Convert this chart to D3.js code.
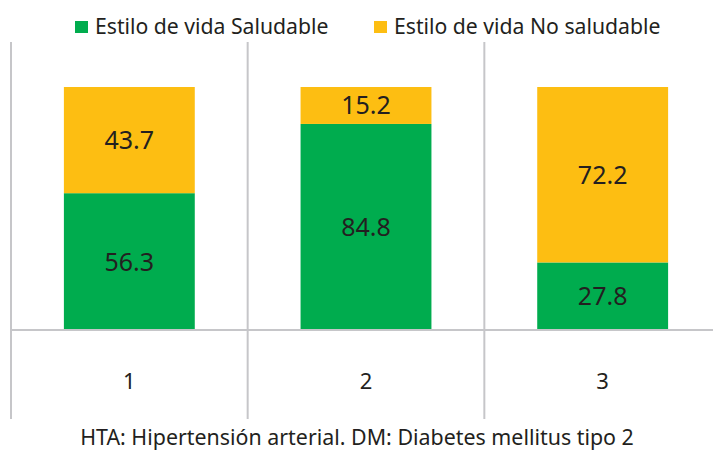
<!DOCTYPE html>
<html>
<head>
<meta charset="utf-8">
<script src="https://cdn.jsdelivr.net/npm/d3@7.9.0/dist/d3.min.js"></script>
<style>
  body { margin: 0; background: #fff; }
  svg { display: block; font-family: 'Noto Sans', sans-serif; }
</style>
</head>
<body>
<div id="chart"></div>
<script>
const categories = ['1', '2', '3'];
const saludable = [56.3, 84.8, 27.8];
const noSaludable = [43.7, 15.2, 72.2];
const seriesNames = ['Estilo de vida Saludable', 'Estilo de vida No saludable'];
const colors = ['#00ac4e', '#fdbe12'];
const footnote = 'HTA: Hipertensión arterial. DM: Diabetes mellitus tipo 2';

const width = 713;
const height = 450;
const textColor = '#231f20';
const gridColor = '#c6c6c9';

const svg = d3.select('#chart')
  .append('svg')
  .attr('width', width)
  .attr('height', height);

const x = d3.scaleBand()
  .domain(categories)
  .range([11, 721])
  .paddingInner(0.447)
  .paddingOuter(0.2235);

const y = d3.scaleLinear().domain([0, 100]).range([330, 87]);

// stacked data
const rows = categories.map((c, i) => ({ cat: c, s0: saludable[i], s1: noSaludable[i] }));
const stack = d3.stack().keys(['s0', 's1'])(rows);

// vertical separators between categories
const bounds = categories.map((c) => x(c) - x.step() * x.paddingOuter());
svg.append('g')
  .selectAll('line')
  .data(bounds)
  .join('line')
  .attr('x1', (d) => d)
  .attr('x2', (d) => d)
  .attr('y1', 42)
  .attr('y2', 419)
  .attr('stroke', gridColor)
  .attr('stroke-width', 2);

// bars
const layers = svg.append('g')
  .selectAll('g')
  .data(stack)
  .join('g')
  .attr('fill', (d, i) => colors[i]);

layers.selectAll('rect')
  .data((d) => d)
  .join('rect')
  .attr('x', (d) => x(d.data.cat))
  .attr('width', x.bandwidth())
  .attr('y', (d) => y(d[1]))
  .attr('height', (d) => y(d[0]) - y(d[1]));

// baseline
svg.append('line')
  .attr('x1', bounds[0])
  .attr('x2', width)
  .attr('y1', y(0))
  .attr('y2', y(0))
  .attr('stroke', gridColor)
  .attr('stroke-width', 2);

// value labels
layers.selectAll('text')
  .data((d) => d)
  .join('text')
  .attr('x', (d) => x(d.data.cat) + x.bandwidth() / 2)
  .attr('y', (d) => (y(d[0]) + y(d[1])) / 2)
  .attr('dy', '0.36em')
  .attr('text-anchor', 'middle')
  .attr('fill', textColor)
  .attr('font-size', 25)
  .text((d) => (d[1] - d[0]).toFixed(1));

// category labels
svg.append('g')
  .selectAll('text')
  .data(categories)
  .join('text')
  .attr('x', (d) => x(d) + x.bandwidth() / 2)
  .attr('y', 381)
  .attr('dy', '0.36em')
  .attr('text-anchor', 'middle')
  .attr('fill', textColor)
  .attr('font-size', 22)
  .text((d) => d);

// legend
const legendX = [75, 374];
const legend = svg.append('g')
  .selectAll('g')
  .data(seriesNames)
  .join('g')
  .attr('transform', (d, i) => `translate(${legendX[i]}, 20)`);

legend.append('rect')
  .attr('width', 13)
  .attr('height', 12)
  .attr('y', 1)
  .attr('fill', (d, i) => colors[i]);

legend.append('text')
  .attr('x', 20)
  .attr('y', 6)
  .attr('dy', '0.36em')
  .attr('fill', textColor)
  .attr('font-size', 21.2)
  .text((d) => d);

// footnote
svg.append('text')
  .attr('x', 357)
  .attr('y', 437)
  .attr('dy', '0.36em')
  .attr('text-anchor', 'middle')
  .attr('fill', textColor)
  .attr('font-size', 21.4)
  .text(footnote);
</script>
</body>
</html>
